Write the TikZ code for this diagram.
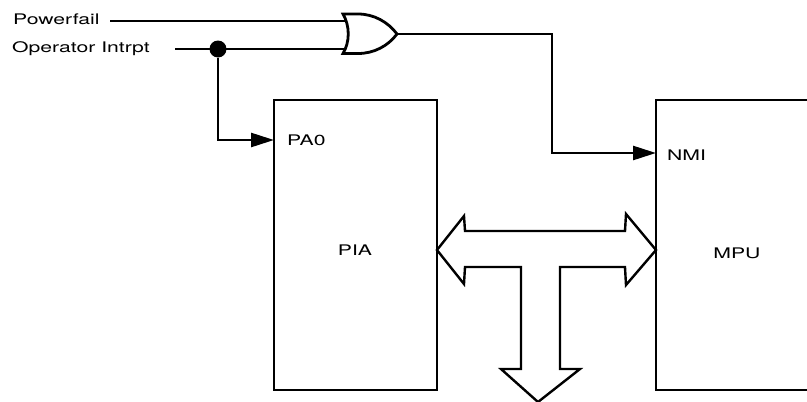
\documentclass[tikz,border=0pt]{standalone}
\usepackage{fontspec}
\setmainfont[FakeStretch=1.45]{TeX Gyre Heros}
\usetikzlibrary{arrows.meta}
\tikzset{
  x=1pt,y=-1pt,
  wire/.style={line width=2.6pt,line join=miter},
  outline/.style={line width=2.4pt,line join=miter},
  sig/.style={wire,-{Triangle[length=23pt,width=14pt]}},
  txt/.style={inner sep=0pt,font=\fontsize{14.6}{16}\selectfont},
  lbl/.style={txt,anchor=west},
  pt/.style={coordinate}
}
\begin{document}
\begin{tikzpicture}
\useasboundingbox (0,0) rectangle (807,402);
% boxes
\draw[outline] (808,100) -- (656,100) -- (656,390) -- (808,390);
\draw[outline] (274,100) rectangle (437,390);
% gate
\draw[outline,line width=2.8pt] (343,14) -- (358,14) .. controls (374,14) and (388,22) .. (397,34)
  .. controls (388,46) and (374,53.5) .. (358,53.5) -- (343,53.5)
  .. controls (350,42) and (350,26) .. (343,14) -- cycle;
\coordinate (gateout) at (397,34);
\coordinate (gatea) at (346,21);
\coordinate (gateb) at (346,49);
\coordinate (nmi) at (656,153);
\coordinate (pa0) at (274,140);
\coordinate (opstart) at (175,49);
\coordinate (pfstart) at (110,21);
\node[circle,fill=black,inner sep=0pt,minimum size=17pt] (dot) at (218,49) {};
\draw[wire] (pfstart) -- (gatea);
\draw[wire] (opstart) -- (gateb);
\draw[sig] (dot) |- (pa0);
\draw[sig] (gateout) -- (552,34) |- (nmi);
% bus
\draw[outline,fill=white] (437,250) -- (464,216) -- (465,231) -- (625,231) -- (626,214) -- (656,250)
  -- (626,285) -- (625,267) -- (560,267) -- (560,369) -- (580,369) -- (538,402) -- (501,369)
  -- (521,369) -- (521,267) -- (465,267) -- (464,284) -- cycle;
% labels
\node[lbl] at (13,19) {Powerfail};
\node[lbl] at (12,49) {Operator Intrpt};
\node[lbl] at (287,140) {PA0};
\node[lbl] at (667,155) {NMI};
\node[txt] at (355,250) {PIA};
\node[txt] at (737,253) {MPU};
\end{tikzpicture}
\end{document}
